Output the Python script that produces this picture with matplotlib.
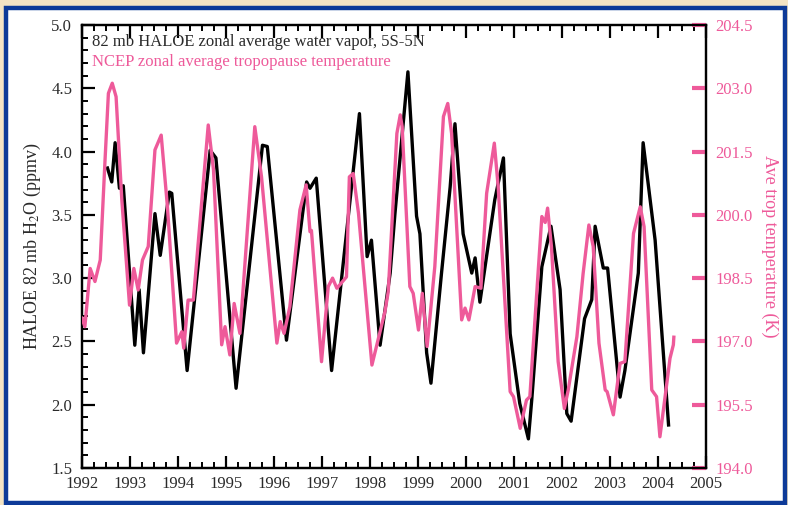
import matplotlib
matplotlib.use("Agg")
import matplotlib.pyplot as plt
from matplotlib.patches import Rectangle
from matplotlib.ticker import MultipleLocator

plt.rcParams["font.family"] = ["Liberation Serif", "DejaVu Serif"]
plt.rcParams["mathtext.fontset"] = "stix"

# ----------------------------------------------------
# Data (decimal year, value)
# ----------------------------------------------------
# HALOE 82 mb water vapor (ppmv)
h2o_year = [1992.53, 1992.62, 1992.69, 1992.78, 1992.86, 1993.10, 1993.19, 1993.28,
            1993.52, 1993.63, 1993.82, 1993.87, 1994.19, 1994.67, 1994.79, 1995.21,
            1995.76, 1995.86, 1996.26, 1996.68, 1996.75, 1996.88, 1997.20, 1997.78,
            1997.94, 1998.03, 1998.21, 1998.42, 1998.52, 1998.79, 1998.97, 1999.04,
            1999.18, 1999.27, 1999.49, 1999.67, 1999.77, 1999.94, 2000.12, 2000.19,
            2000.29, 2000.60, 2000.78, 2000.92, 2001.12, 2001.30, 2001.37, 2001.58,
            2001.77, 2001.96, 2002.10, 2002.19, 2002.47, 2002.62, 2002.69, 2002.86,
            2002.95, 2003.21, 2003.31, 2003.59, 2003.69, 2003.94, 2004.22]
h2o_ppmv = [3.87, 3.76, 4.07, 3.71, 3.73, 2.47, 2.91, 2.41,
            3.51, 3.18, 3.68, 3.67, 2.27, 4.01, 3.95, 2.13,
            4.05, 4.04, 2.51, 3.76, 3.71, 3.79, 2.27, 4.30,
            3.17, 3.30, 2.47, 3.04, 3.51, 4.63, 3.49, 3.35,
            2.41, 2.17, 3.04, 3.72, 4.22, 3.35, 3.04, 3.16,
            2.81, 3.62, 3.95, 2.56, 2.01, 1.73, 2.04, 3.09,
            3.41, 2.91, 1.93, 1.87, 2.68, 2.83, 3.41, 3.08,
            3.08, 2.06, 2.27, 3.04, 4.07, 3.30, 1.84]

# NCEP tropopause temperature (K)
temp_year = [1992.00, 1992.06, 1992.17, 1992.27, 1992.38, 1992.48, 1992.55, 1992.63,
             1992.71, 1992.83, 1992.99, 1993.08, 1993.17, 1993.26, 1993.38, 1993.52,
             1993.65, 1993.78, 1993.97, 1994.08, 1994.12, 1994.21, 1994.32, 1994.63,
             1994.74, 1994.91, 1994.98, 1995.08, 1995.17, 1995.29, 1995.60, 1995.74,
             1996.06, 1996.13, 1996.21, 1996.33, 1996.54, 1996.67, 1996.75, 1996.78,
             1996.99, 1997.13, 1997.22, 1997.31, 1997.51, 1997.57, 1997.65, 1997.76,
             1998.04, 1998.31, 1998.38, 1998.56, 1998.63, 1998.67, 1998.83, 1998.90,
             1999.01, 1999.09, 1999.19, 1999.35, 1999.53, 1999.62, 1999.70, 1999.91,
             1999.98, 2000.06, 2000.19, 2000.31, 2000.43, 2000.59, 2000.67, 2000.92,
             2000.99, 2001.13, 2001.26, 2001.33, 2001.58, 2001.65, 2001.70, 2001.78,
             2001.92, 2002.05, 2002.13, 2002.31, 2002.44, 2002.56, 2002.65, 2002.77,
             2002.90, 2002.94, 2003.07, 2003.21, 2003.31, 2003.49, 2003.63, 2003.71,
             2003.87, 2003.97, 2004.04, 2004.13, 2004.25, 2004.32, 2004.33]
temp_k = [197.55, 197.35, 198.73, 198.42, 198.93, 201.30, 202.88, 203.12,
          202.80, 200.35, 197.86, 198.73, 198.22, 198.93, 199.25, 201.54,
          201.89, 200.19, 196.96, 197.23, 196.84, 197.98, 197.98, 202.13,
          201.06, 196.92, 197.35, 196.68, 197.90, 197.19, 202.09, 200.90,
          196.96, 197.47, 197.19, 197.82, 200.12, 200.71, 199.60, 199.63,
          196.52, 198.30, 198.50, 198.26, 198.53, 200.90, 200.98, 200.04,
          196.44, 197.70, 198.18, 201.93, 202.37, 202.09, 198.30, 198.14,
          197.27, 198.14, 196.88, 198.77, 202.33, 202.64, 201.93, 197.51,
          197.79, 197.51, 198.30, 198.26, 200.51, 201.70, 200.67, 195.81,
          195.69, 194.94, 195.61, 195.69, 199.96, 199.82, 200.16, 199.25,
          196.52, 195.41, 195.85, 197.11, 198.61, 199.76, 199.25, 196.96,
          195.85, 195.81, 195.26, 196.48, 196.52, 199.56, 200.19, 199.72,
          195.85, 195.69, 194.74, 195.53, 196.60, 196.92, 197.10]

year_ticks = list(range(1992, 2006))
h2o_ticks = [1.5, 2.0, 2.5, 3.0, 3.5, 4.0, 4.5, 5.0]
temp_ticks = [194.0, 195.5, 197.0, 198.5, 200.0, 201.5, 203.0, 204.5]

PINK = "#ee5a9a"
BLUE = "#0d3a98"
GREY = "#2a2a2a"

# ----------------------------------------------------
# Figure with beige background and blue framed panel
# ----------------------------------------------------
fig = plt.figure(figsize=(7.88, 5.05), dpi=100)
fig.patch.set_facecolor("#f4e4c4")
frame = Rectangle((6 / 788, 2 / 505), 779 / 788, 495 / 505,
                  transform=fig.transFigure, facecolor="white",
                  edgecolor=BLUE, linewidth=3.2, zorder=-10)
fig.patches.append(frame)

ax = fig.add_axes([82 / 788, 1 - 468 / 505, 624 / 788, 443 / 505])
ax.set_facecolor("white")
ax.plot(h2o_year, h2o_ppmv, color="black", linewidth=2.4, zorder=3)
ax.set_xlim(1992, 2005)
ax.set_ylim(1.5, 5.0)
ax.set_xticks(year_ticks)
ax.set_yticks(h2o_ticks)
ax.set_yticklabels([f"{v:.1f}" for v in h2o_ticks])
ax.xaxis.set_minor_locator(MultipleLocator(0.25))
ax.yaxis.set_minor_locator(MultipleLocator(0.1))
ax.tick_params(axis="both", which="major", direction="in", length=9, width=1.6,
               labelsize=12, labelcolor=GREY)
ax.tick_params(axis="both", which="minor", direction="in", length=4.5, width=1.4)
ax.tick_params(axis="x", which="both", top=True, pad=6)
ax.tick_params(axis="y", which="both", right=False, pad=7)
for s in ax.spines.values():
    s.set_linewidth(1.6)
ax.set_ylabel("HALOE 82 mb H$_2$O (ppmv)", fontsize=13, labelpad=6, color=GREY)

ax2 = ax.twinx()
ax2.plot(temp_year, temp_k, color=PINK, linewidth=2.4, zorder=4)
ax2.set_ylim(194.0, 204.5)
ax2.set_yticks(temp_ticks)
ax2.set_yticklabels([f"{v:.1f}" for v in temp_ticks])
ax2.tick_params(axis="y", which="major", direction="in", length=10, width=3,
                colors=PINK, labelsize=12, pad=7)
ax2.tick_params(axis="y", which="minor", right=False, left=False)
for s in ax2.spines.values():
    s.set_linewidth(1.6)
ax2.set_ylabel("Ave trop temperature (K)", color=PINK, fontsize=13,
               rotation=-90, labelpad=18)

ax.text(0.016, 0.962, "82 mb HALOE zonal average water vapor, 5S-5N",
        transform=ax.transAxes, fontsize=12, va="center", color=GREY)
ax.text(0.016, 0.917, "NCEP zonal average tropopause temperature",
        transform=ax.transAxes, fontsize=12, va="center", color=PINK)

fig.savefig("out.png", dpi=100, facecolor=fig.get_facecolor())
